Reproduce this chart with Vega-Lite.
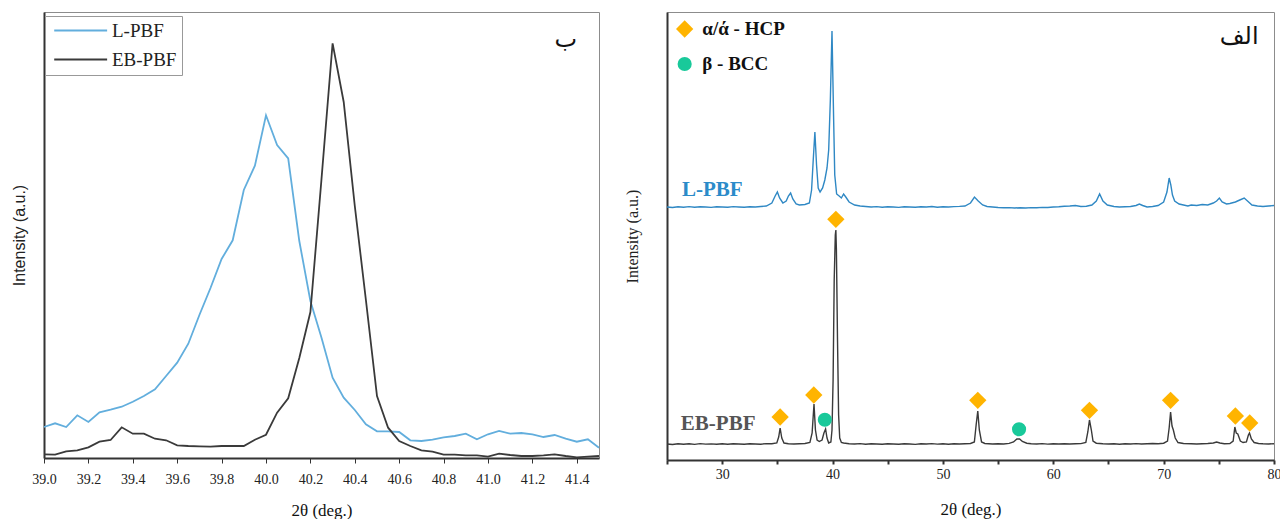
{
  "$schema": "https://vega.github.io/schema/vega-lite/v6.json",
  "background": "white",
  "padding": {"left": 10, "top": 11, "right": 0, "bottom": 0},
  "spacing": 19,
  "config": {
    "view": {"stroke": "#8c8c8c", "strokeWidth": 1},
    "axis": {"grid": false}
  },
  "datasets": {
    "zoom": [
      {"sample":"L-PBF","theta":39.00,"intensity":31},{"sample":"L-PBF","theta":39.05,"intensity":34.7},{"sample":"L-PBF","theta":39.10,"intensity":31},{"sample":"L-PBF","theta":39.15,"intensity":42.7},{"sample":"L-PBF","theta":39.20,"intensity":36},{"sample":"L-PBF","theta":39.25,"intensity":45.7},{"sample":"L-PBF","theta":39.30,"intensity":48.3},{"sample":"L-PBF","theta":39.35,"intensity":51.3},{"sample":"L-PBF","theta":39.40,"intensity":56.3},{"sample":"L-PBF","theta":39.45,"intensity":62},{"sample":"L-PBF","theta":39.50,"intensity":68.7},{"sample":"L-PBF","theta":39.55,"intensity":82},{"sample":"L-PBF","theta":39.60,"intensity":95.3},{"sample":"L-PBF","theta":39.65,"intensity":114.3},{"sample":"L-PBF","theta":39.70,"intensity":143},{"sample":"L-PBF","theta":39.75,"intensity":170},{"sample":"L-PBF","theta":39.80,"intensity":199},{"sample":"L-PBF","theta":39.85,"intensity":217.7},{"sample":"L-PBF","theta":39.90,"intensity":268},{"sample":"L-PBF","theta":39.95,"intensity":292.3},{"sample":"L-PBF","theta":40.00,"intensity":342.7},{"sample":"L-PBF","theta":40.05,"intensity":313},{"sample":"L-PBF","theta":40.10,"intensity":299.7},{"sample":"L-PBF","theta":40.15,"intensity":217},{"sample":"L-PBF","theta":40.20,"intensity":157},{"sample":"L-PBF","theta":40.25,"intensity":120.3},{"sample":"L-PBF","theta":40.30,"intensity":80.3},{"sample":"L-PBF","theta":40.35,"intensity":60.3},{"sample":"L-PBF","theta":40.40,"intensity":48},{"sample":"L-PBF","theta":40.45,"intensity":33.7},{"sample":"L-PBF","theta":40.50,"intensity":26.7},{"sample":"L-PBF","theta":40.55,"intensity":26.7},{"sample":"L-PBF","theta":40.60,"intensity":26},{"sample":"L-PBF","theta":40.65,"intensity":17.7},{"sample":"L-PBF","theta":40.70,"intensity":17},{"sample":"L-PBF","theta":40.75,"intensity":18.3},{"sample":"L-PBF","theta":40.80,"intensity":20.7},{"sample":"L-PBF","theta":40.85,"intensity":22},{"sample":"L-PBF","theta":40.90,"intensity":24.3},{"sample":"L-PBF","theta":40.95,"intensity":18.7},{"sample":"L-PBF","theta":41.00,"intensity":23.7},{"sample":"L-PBF","theta":41.05,"intensity":27},{"sample":"L-PBF","theta":41.10,"intensity":24.3},{"sample":"L-PBF","theta":41.15,"intensity":25},{"sample":"L-PBF","theta":41.20,"intensity":23.7},{"sample":"L-PBF","theta":41.25,"intensity":21},{"sample":"L-PBF","theta":41.30,"intensity":23},{"sample":"L-PBF","theta":41.35,"intensity":19.3},{"sample":"L-PBF","theta":41.40,"intensity":16.3},{"sample":"L-PBF","theta":41.45,"intensity":18.7},{"sample":"L-PBF","theta":41.50,"intensity":10.3},
      {"sample":"EB-PBF","theta":39.00,"intensity":3.7},{"sample":"EB-PBF","theta":39.05,"intensity":3.3},{"sample":"EB-PBF","theta":39.10,"intensity":6.7},{"sample":"EB-PBF","theta":39.15,"intensity":7.7},{"sample":"EB-PBF","theta":39.20,"intensity":10.7},{"sample":"EB-PBF","theta":39.25,"intensity":16.3},{"sample":"EB-PBF","theta":39.30,"intensity":18},{"sample":"EB-PBF","theta":39.35,"intensity":30.7},{"sample":"EB-PBF","theta":39.40,"intensity":24.3},{"sample":"EB-PBF","theta":39.45,"intensity":24.3},{"sample":"EB-PBF","theta":39.50,"intensity":19.3},{"sample":"EB-PBF","theta":39.55,"intensity":17.7},{"sample":"EB-PBF","theta":39.60,"intensity":12.7},{"sample":"EB-PBF","theta":39.65,"intensity":12},{"sample":"EB-PBF","theta":39.70,"intensity":11.7},{"sample":"EB-PBF","theta":39.75,"intensity":11.3},{"sample":"EB-PBF","theta":39.80,"intensity":12},{"sample":"EB-PBF","theta":39.85,"intensity":12},{"sample":"EB-PBF","theta":39.90,"intensity":12},{"sample":"EB-PBF","theta":39.95,"intensity":18.3},{"sample":"EB-PBF","theta":40.00,"intensity":23.3},{"sample":"EB-PBF","theta":40.05,"intensity":45.3},{"sample":"EB-PBF","theta":40.10,"intensity":59.7},{"sample":"EB-PBF","theta":40.15,"intensity":100},{"sample":"EB-PBF","theta":40.20,"intensity":146},{"sample":"EB-PBF","theta":40.25,"intensity":279},{"sample":"EB-PBF","theta":40.30,"intensity":414.7},{"sample":"EB-PBF","theta":40.35,"intensity":356},{"sample":"EB-PBF","theta":40.40,"intensity":252},{"sample":"EB-PBF","theta":40.45,"intensity":158},{"sample":"EB-PBF","theta":40.50,"intensity":62},{"sample":"EB-PBF","theta":40.55,"intensity":30.3},{"sample":"EB-PBF","theta":40.60,"intensity":17},{"sample":"EB-PBF","theta":40.65,"intensity":12},{"sample":"EB-PBF","theta":40.70,"intensity":7.7},{"sample":"EB-PBF","theta":40.75,"intensity":6.3},{"sample":"EB-PBF","theta":40.80,"intensity":3.3},{"sample":"EB-PBF","theta":40.85,"intensity":3.3},{"sample":"EB-PBF","theta":40.90,"intensity":2.7},{"sample":"EB-PBF","theta":40.95,"intensity":2.7},{"sample":"EB-PBF","theta":41.00,"intensity":1.3},{"sample":"EB-PBF","theta":41.05,"intensity":4.3},{"sample":"EB-PBF","theta":41.10,"intensity":3},{"sample":"EB-PBF","theta":41.15,"intensity":2},{"sample":"EB-PBF","theta":41.20,"intensity":2},{"sample":"EB-PBF","theta":41.25,"intensity":2.7},{"sample":"EB-PBF","theta":41.30,"intensity":3.7},{"sample":"EB-PBF","theta":41.35,"intensity":2},{"sample":"EB-PBF","theta":41.40,"intensity":0.7},{"sample":"EB-PBF","theta":41.45,"intensity":1.3},{"sample":"EB-PBF","theta":41.50,"intensity":2}
    ],
    "full": [
      {"sample":"L-PBF","theta":25,"intensity":253},{"sample":"L-PBF","theta":25.5,"intensity":252.5},{"sample":"L-PBF","theta":26,"intensity":253.3},{"sample":"L-PBF","theta":26.5,"intensity":252.8},{"sample":"L-PBF","theta":27,"intensity":253.4},{"sample":"L-PBF","theta":27.5,"intensity":252.7},{"sample":"L-PBF","theta":28,"intensity":253.2},{"sample":"L-PBF","theta":28.5,"intensity":253},{"sample":"L-PBF","theta":29,"intensity":252.6},{"sample":"L-PBF","theta":29.5,"intensity":253.3},{"sample":"L-PBF","theta":30,"intensity":253},{"sample":"L-PBF","theta":30.5,"intensity":252.8},{"sample":"L-PBF","theta":31,"intensity":253.4},{"sample":"L-PBF","theta":31.5,"intensity":253},{"sample":"L-PBF","theta":32,"intensity":252.7},{"sample":"L-PBF","theta":32.5,"intensity":253.3},{"sample":"L-PBF","theta":33,"intensity":253},{"sample":"L-PBF","theta":33.5,"intensity":253.5},{"sample":"L-PBF","theta":34,"intensity":254},{"sample":"L-PBF","theta":34.5,"intensity":257},{"sample":"L-PBF","theta":34.8,"intensity":264},{"sample":"L-PBF","theta":35.0,"intensity":268},{"sample":"L-PBF","theta":35.2,"intensity":262},{"sample":"L-PBF","theta":35.5,"intensity":257},{"sample":"L-PBF","theta":35.8,"intensity":259},{"sample":"L-PBF","theta":36.0,"intensity":264},{"sample":"L-PBF","theta":36.2,"intensity":267},{"sample":"L-PBF","theta":36.4,"intensity":261},{"sample":"L-PBF","theta":36.7,"intensity":256},{"sample":"L-PBF","theta":37,"intensity":255},{"sample":"L-PBF","theta":37.5,"intensity":255.5},{"sample":"L-PBF","theta":37.9,"intensity":257},{"sample":"L-PBF","theta":38.1,"intensity":270},{"sample":"L-PBF","theta":38.25,"intensity":300},{"sample":"L-PBF","theta":38.4,"intensity":328},{"sample":"L-PBF","theta":38.55,"intensity":295},{"sample":"L-PBF","theta":38.7,"intensity":272},{"sample":"L-PBF","theta":38.87,"intensity":268},{"sample":"L-PBF","theta":39.1,"intensity":272},{"sample":"L-PBF","theta":39.3,"intensity":280},{"sample":"L-PBF","theta":39.5,"intensity":292},{"sample":"L-PBF","theta":39.65,"intensity":310},{"sample":"L-PBF","theta":39.8,"intensity":360},{"sample":"L-PBF","theta":39.95,"intensity":429},{"sample":"L-PBF","theta":40.1,"intensity":340},{"sample":"L-PBF","theta":40.2,"intensity":285},{"sample":"L-PBF","theta":40.37,"intensity":266},{"sample":"L-PBF","theta":40.6,"intensity":264},{"sample":"L-PBF","theta":40.8,"intensity":262},{"sample":"L-PBF","theta":41.0,"intensity":266},{"sample":"L-PBF","theta":41.2,"intensity":263},{"sample":"L-PBF","theta":41.5,"intensity":258},{"sample":"L-PBF","theta":42,"intensity":255},{"sample":"L-PBF","theta":42.5,"intensity":254},{"sample":"L-PBF","theta":43,"intensity":253.5},{"sample":"L-PBF","theta":43.5,"intensity":253},{"sample":"L-PBF","theta":44,"intensity":253.4},{"sample":"L-PBF","theta":44.5,"intensity":252.8},{"sample":"L-PBF","theta":45,"intensity":253.2},{"sample":"L-PBF","theta":45.5,"intensity":253},{"sample":"L-PBF","theta":46,"intensity":252.6},{"sample":"L-PBF","theta":46.5,"intensity":253.3},{"sample":"L-PBF","theta":47,"intensity":253},{"sample":"L-PBF","theta":47.5,"intensity":252.7},{"sample":"L-PBF","theta":48,"intensity":253.2},{"sample":"L-PBF","theta":48.5,"intensity":253},{"sample":"L-PBF","theta":49,"intensity":253.5},{"sample":"L-PBF","theta":49.5,"intensity":252.8},{"sample":"L-PBF","theta":50,"intensity":253.2},{"sample":"L-PBF","theta":50.5,"intensity":253},{"sample":"L-PBF","theta":51,"intensity":253.4},{"sample":"L-PBF","theta":51.5,"intensity":253.6},{"sample":"L-PBF","theta":52,"intensity":254},{"sample":"L-PBF","theta":52.5,"intensity":257},{"sample":"L-PBF","theta":52.86,"intensity":263},{"sample":"L-PBF","theta":53.2,"intensity":259},{"sample":"L-PBF","theta":53.6,"intensity":255},{"sample":"L-PBF","theta":54,"intensity":253.5},{"sample":"L-PBF","theta":54.5,"intensity":253},{"sample":"L-PBF","theta":55,"intensity":252.5},{"sample":"L-PBF","theta":55.5,"intensity":252.2},{"sample":"L-PBF","theta":56,"intensity":252.4},{"sample":"L-PBF","theta":56.5,"intensity":252},{"sample":"L-PBF","theta":57,"intensity":252.3},{"sample":"L-PBF","theta":57.5,"intensity":252},{"sample":"L-PBF","theta":58,"intensity":252.4},{"sample":"L-PBF","theta":58.5,"intensity":252.2},{"sample":"L-PBF","theta":59,"intensity":252.6},{"sample":"L-PBF","theta":59.5,"intensity":252.5},{"sample":"L-PBF","theta":60,"intensity":253},{"sample":"L-PBF","theta":60.5,"intensity":253.2},{"sample":"L-PBF","theta":61,"intensity":253.8},{"sample":"L-PBF","theta":61.5,"intensity":254},{"sample":"L-PBF","theta":62,"intensity":254.5},{"sample":"L-PBF","theta":62.5,"intensity":253.5},{"sample":"L-PBF","theta":63,"intensity":253.7},{"sample":"L-PBF","theta":63.5,"intensity":255},{"sample":"L-PBF","theta":63.9,"intensity":259},{"sample":"L-PBF","theta":64.2,"intensity":266},{"sample":"L-PBF","theta":64.5,"intensity":259},{"sample":"L-PBF","theta":64.9,"intensity":255},{"sample":"L-PBF","theta":65.5,"intensity":253.5},{"sample":"L-PBF","theta":66,"intensity":253},{"sample":"L-PBF","theta":66.5,"intensity":253.2},{"sample":"L-PBF","theta":67,"intensity":253.5},{"sample":"L-PBF","theta":67.5,"intensity":254.5},{"sample":"L-PBF","theta":67.8,"intensity":256},{"sample":"L-PBF","theta":68.1,"intensity":254.5},{"sample":"L-PBF","theta":68.5,"intensity":253},{"sample":"L-PBF","theta":69,"intensity":253.5},{"sample":"L-PBF","theta":69.5,"intensity":254.5},{"sample":"L-PBF","theta":70,"intensity":258},{"sample":"L-PBF","theta":70.3,"intensity":268},{"sample":"L-PBF","theta":70.5,"intensity":282},{"sample":"L-PBF","theta":70.65,"intensity":275},{"sample":"L-PBF","theta":70.8,"intensity":265},{"sample":"L-PBF","theta":71.0,"intensity":259},{"sample":"L-PBF","theta":71.4,"intensity":256},{"sample":"L-PBF","theta":71.8,"intensity":255},{"sample":"L-PBF","theta":72.2,"intensity":254},{"sample":"L-PBF","theta":72.5,"intensity":255},{"sample":"L-PBF","theta":73,"intensity":254.5},{"sample":"L-PBF","theta":73.5,"intensity":255.5},{"sample":"L-PBF","theta":74,"intensity":255},{"sample":"L-PBF","theta":74.5,"intensity":257},{"sample":"L-PBF","theta":74.8,"intensity":259},{"sample":"L-PBF","theta":75.05,"intensity":262},{"sample":"L-PBF","theta":75.3,"intensity":258},{"sample":"L-PBF","theta":75.7,"intensity":256},{"sample":"L-PBF","theta":76,"intensity":256.5},{"sample":"L-PBF","theta":76.5,"intensity":258},{"sample":"L-PBF","theta":76.9,"intensity":260},{"sample":"L-PBF","theta":77.3,"intensity":262},{"sample":"L-PBF","theta":77.7,"intensity":258},{"sample":"L-PBF","theta":78,"intensity":255},{"sample":"L-PBF","theta":78.5,"intensity":254},{"sample":"L-PBF","theta":79,"intensity":253.5},{"sample":"L-PBF","theta":79.5,"intensity":254},{"sample":"L-PBF","theta":80,"intensity":254.5},
      {"sample":"EB-PBF","theta":25,"intensity":16},{"sample":"EB-PBF","theta":25.5,"intensity":15.5},{"sample":"EB-PBF","theta":26,"intensity":16.3},{"sample":"EB-PBF","theta":26.5,"intensity":15.8},{"sample":"EB-PBF","theta":27,"intensity":16.2},{"sample":"EB-PBF","theta":27.5,"intensity":15.6},{"sample":"EB-PBF","theta":28,"intensity":16.4},{"sample":"EB-PBF","theta":28.5,"intensity":15.9},{"sample":"EB-PBF","theta":29,"intensity":16.1},{"sample":"EB-PBF","theta":29.5,"intensity":15.7},{"sample":"EB-PBF","theta":30,"intensity":16.3},{"sample":"EB-PBF","theta":30.5,"intensity":15.8},{"sample":"EB-PBF","theta":31,"intensity":16.2},{"sample":"EB-PBF","theta":31.5,"intensity":16},{"sample":"EB-PBF","theta":32,"intensity":15.7},{"sample":"EB-PBF","theta":32.5,"intensity":16.3},{"sample":"EB-PBF","theta":33,"intensity":16},{"sample":"EB-PBF","theta":33.5,"intensity":15.8},{"sample":"EB-PBF","theta":34,"intensity":16.4},{"sample":"EB-PBF","theta":34.5,"intensity":16.2},{"sample":"EB-PBF","theta":34.95,"intensity":17},{"sample":"EB-PBF","theta":35.12,"intensity":23},{"sample":"EB-PBF","theta":35.25,"intensity":32},{"sample":"EB-PBF","theta":35.4,"intensity":22},{"sample":"EB-PBF","theta":35.6,"intensity":17},{"sample":"EB-PBF","theta":36,"intensity":16.3},{"sample":"EB-PBF","theta":36.5,"intensity":16},{"sample":"EB-PBF","theta":37,"intensity":16.2},{"sample":"EB-PBF","theta":37.5,"intensity":16.5},{"sample":"EB-PBF","theta":37.95,"intensity":17.5},{"sample":"EB-PBF","theta":38.15,"intensity":27},{"sample":"EB-PBF","theta":38.32,"intensity":56},{"sample":"EB-PBF","theta":38.45,"intensity":30},{"sample":"EB-PBF","theta":38.6,"intensity":20},{"sample":"EB-PBF","theta":38.8,"intensity":18.5},{"sample":"EB-PBF","theta":39.05,"intensity":20},{"sample":"EB-PBF","theta":39.22,"intensity":27},{"sample":"EB-PBF","theta":39.37,"intensity":31},{"sample":"EB-PBF","theta":39.5,"intensity":22},{"sample":"EB-PBF","theta":39.65,"intensity":17},{"sample":"EB-PBF","theta":39.85,"intensity":18},{"sample":"EB-PBF","theta":39.95,"intensity":30},{"sample":"EB-PBF","theta":40.05,"intensity":80},{"sample":"EB-PBF","theta":40.15,"intensity":180},{"sample":"EB-PBF","theta":40.25,"intensity":225},{"sample":"EB-PBF","theta":40.3,"intensity":230},{"sample":"EB-PBF","theta":40.35,"intensity":210},{"sample":"EB-PBF","theta":40.45,"intensity":120},{"sample":"EB-PBF","theta":40.55,"intensity":45},{"sample":"EB-PBF","theta":40.65,"intensity":22},{"sample":"EB-PBF","theta":40.8,"intensity":17.5},{"sample":"EB-PBF","theta":41,"intensity":17},{"sample":"EB-PBF","theta":41.5,"intensity":16.3},{"sample":"EB-PBF","theta":42,"intensity":16},{"sample":"EB-PBF","theta":42.5,"intensity":16.4},{"sample":"EB-PBF","theta":43,"intensity":15.8},{"sample":"EB-PBF","theta":43.5,"intensity":16.2},{"sample":"EB-PBF","theta":44,"intensity":16},{"sample":"EB-PBF","theta":44.5,"intensity":15.7},{"sample":"EB-PBF","theta":45,"intensity":16.3},{"sample":"EB-PBF","theta":45.5,"intensity":16},{"sample":"EB-PBF","theta":46,"intensity":15.8},{"sample":"EB-PBF","theta":46.5,"intensity":16.3},{"sample":"EB-PBF","theta":47,"intensity":16},{"sample":"EB-PBF","theta":47.5,"intensity":15.6},{"sample":"EB-PBF","theta":48,"intensity":16.2},{"sample":"EB-PBF","theta":48.5,"intensity":16},{"sample":"EB-PBF","theta":49,"intensity":16.4},{"sample":"EB-PBF","theta":49.5,"intensity":15.9},{"sample":"EB-PBF","theta":50,"intensity":16.2},{"sample":"EB-PBF","theta":50.5,"intensity":15.8},{"sample":"EB-PBF","theta":51,"intensity":16.3},{"sample":"EB-PBF","theta":51.5,"intensity":16},{"sample":"EB-PBF","theta":52,"intensity":16.2},{"sample":"EB-PBF","theta":52.5,"intensity":16.5},{"sample":"EB-PBF","theta":52.85,"intensity":18},{"sample":"EB-PBF","theta":53.02,"intensity":36},{"sample":"EB-PBF","theta":53.16,"intensity":49},{"sample":"EB-PBF","theta":53.3,"intensity":30},{"sample":"EB-PBF","theta":53.5,"intensity":18},{"sample":"EB-PBF","theta":53.8,"intensity":16.5},{"sample":"EB-PBF","theta":54.5,"intensity":16},{"sample":"EB-PBF","theta":55,"intensity":16.3},{"sample":"EB-PBF","theta":55.5,"intensity":16},{"sample":"EB-PBF","theta":56,"intensity":16.6},{"sample":"EB-PBF","theta":56.4,"intensity":18},{"sample":"EB-PBF","theta":56.7,"intensity":21},{"sample":"EB-PBF","theta":56.95,"intensity":21},{"sample":"EB-PBF","theta":57.2,"intensity":18.5},{"sample":"EB-PBF","theta":57.6,"intensity":16.8},{"sample":"EB-PBF","theta":58,"intensity":16.2},{"sample":"EB-PBF","theta":58.5,"intensity":16},{"sample":"EB-PBF","theta":59,"intensity":16.4},{"sample":"EB-PBF","theta":59.5,"intensity":15.9},{"sample":"EB-PBF","theta":60,"intensity":16.2},{"sample":"EB-PBF","theta":60.5,"intensity":16},{"sample":"EB-PBF","theta":61,"intensity":16.3},{"sample":"EB-PBF","theta":61.5,"intensity":16},{"sample":"EB-PBF","theta":62,"intensity":16.2},{"sample":"EB-PBF","theta":62.5,"intensity":16.4},{"sample":"EB-PBF","theta":62.95,"intensity":17.5},{"sample":"EB-PBF","theta":63.13,"intensity":28},{"sample":"EB-PBF","theta":63.28,"intensity":40},{"sample":"EB-PBF","theta":63.45,"intensity":30},{"sample":"EB-PBF","theta":63.6,"intensity":19},{"sample":"EB-PBF","theta":63.9,"intensity":16.8},{"sample":"EB-PBF","theta":64.5,"intensity":16.2},{"sample":"EB-PBF","theta":65,"intensity":16},{"sample":"EB-PBF","theta":65.5,"intensity":16.3},{"sample":"EB-PBF","theta":66,"intensity":15.8},{"sample":"EB-PBF","theta":66.5,"intensity":16.2},{"sample":"EB-PBF","theta":67,"intensity":16},{"sample":"EB-PBF","theta":67.5,"intensity":16.4},{"sample":"EB-PBF","theta":68,"intensity":16},{"sample":"EB-PBF","theta":68.5,"intensity":16.2},{"sample":"EB-PBF","theta":69,"intensity":16.5},{"sample":"EB-PBF","theta":69.5,"intensity":16.3},{"sample":"EB-PBF","theta":70,"intensity":16.8},{"sample":"EB-PBF","theta":70.35,"intensity":19},{"sample":"EB-PBF","theta":70.5,"intensity":32},{"sample":"EB-PBF","theta":70.63,"intensity":48},{"sample":"EB-PBF","theta":70.76,"intensity":34},{"sample":"EB-PBF","theta":70.88,"intensity":30},{"sample":"EB-PBF","theta":71.05,"intensity":22},{"sample":"EB-PBF","theta":71.3,"intensity":17.5},{"sample":"EB-PBF","theta":71.8,"intensity":16.5},{"sample":"EB-PBF","theta":72.5,"intensity":16.2},{"sample":"EB-PBF","theta":73,"intensity":16},{"sample":"EB-PBF","theta":73.5,"intensity":16.3},{"sample":"EB-PBF","theta":74,"intensity":16.5},{"sample":"EB-PBF","theta":74.5,"intensity":17},{"sample":"EB-PBF","theta":74.8,"intensity":18},{"sample":"EB-PBF","theta":75.1,"intensity":17},{"sample":"EB-PBF","theta":75.5,"intensity":16.3},{"sample":"EB-PBF","theta":76,"intensity":16.5},{"sample":"EB-PBF","theta":76.3,"intensity":19},{"sample":"EB-PBF","theta":76.45,"intensity":33},{"sample":"EB-PBF","theta":76.58,"intensity":27},{"sample":"EB-PBF","theta":76.72,"intensity":26},{"sample":"EB-PBF","theta":76.95,"intensity":19},{"sample":"EB-PBF","theta":77.2,"intensity":17.5},{"sample":"EB-PBF","theta":77.5,"intensity":18},{"sample":"EB-PBF","theta":77.68,"intensity":25},{"sample":"EB-PBF","theta":77.78,"intensity":27},{"sample":"EB-PBF","theta":77.95,"intensity":21},{"sample":"EB-PBF","theta":78.2,"intensity":17.5},{"sample":"EB-PBF","theta":78.6,"intensity":16.5},{"sample":"EB-PBF","theta":79,"intensity":16.2},{"sample":"EB-PBF","theta":79.5,"intensity":16},{"sample":"EB-PBF","theta":80,"intensity":16.3}
    ],
    "markers": [
      {"phase":"HCP","theta":26.6,"intensity":431},
      {"phase":"BCC","theta":26.6,"intensity":396},
      {"phase":"HCP","theta":35.25,"intensity":43},
      {"phase":"HCP","theta":38.3,"intensity":65},
      {"phase":"BCC","theta":39.3,"intensity":40.3},
      {"phase":"HCP","theta":40.3,"intensity":240.7},
      {"phase":"HCP","theta":53.16,"intensity":59.7},
      {"phase":"BCC","theta":56.9,"intensity":30.7},
      {"phase":"HCP","theta":63.28,"intensity":49.7},
      {"phase":"HCP","theta":70.63,"intensity":59.7},
      {"phase":"HCP","theta":76.5,"intensity":44},
      {"phase":"HCP","theta":77.8,"intensity":37}
    ],
    "labels": [
      {"kind":"legend","theta":28.2,"intensity":431,"text":"α/ά - HCP"},
      {"kind":"legend","theta":28.2,"intensity":396,"text":"β - BCC"},
      {"kind":"L","theta":26.35,"intensity":270,"text":"L-PBF"},
      {"kind":"EB","theta":26.25,"intensity":36,"text":"EB-PBF"},
      {"kind":"panel","theta":78.6,"intensity":423,"text":"الف"}
    ]
  },
  "hconcat": [
    {
      "width": 555,
      "height": 446,
      "layer": [
        {
          "data": {"name": "zoom"},
          "mark": {"type": "line", "strokeWidth": 1.8},
          "encoding": {
            "x": {"field": "theta", "type": "quantitative",
              "scale": {"domain": [39, 41.5], "nice": false, "zero": false},
              "axis": {"values": [39.0,39.1,39.2,39.3,39.4,39.5,39.6,39.7,39.8,39.9,40.0,40.1,40.2,40.3,40.4,40.5,40.6,40.7,40.8,40.9,41.0,41.1,41.2,41.3,41.4,41.5],
                "format": ".1f", "labelExpr": "round(datum.value*10) % 2 == 0 && datum.value < 41.45 ? datum.label : ''",
                "title": "2θ (deg.)", "titleFont": "Liberation Serif", "titleFontSize": 17, "titleFontWeight": "normal", "titleColor": "#111", "titlePadding": 16,
                "labelFont": "Liberation Serif", "labelFontSize": 14, "labelColor": "#222", "labelPadding": 9, "labelFlush": false,
                "domainColor": "#333", "domainWidth": 2, "tickColor": "#333", "tickWidth": 1, "tickSize": 5}},
            "y": {"field": "intensity", "type": "quantitative",
              "scale": {"domain": [0, 446], "nice": false},
              "axis": {"title": "Intensity (a.u.)", "titleFont": "Liberation Sans", "titleFontSize": 16, "titleFontWeight": "normal", "titleColor": "#222", "titlePadding": 17,
                "labels": false, "ticks": false, "domainColor": "#333", "domainWidth": 2}},
            "color": {"field": "sample", "type": "nominal",
              "scale": {"domain": ["L-PBF", "EB-PBF"], "range": ["#62aedd", "#3a3a3a"]},
              "legend": {"title": null, "orient": "none", "legendX": 1, "legendY": 4, "direction": "vertical",
                "symbolType": "M-1,0H9", "symbolSize": 112, "symbolStrokeWidth": 2, "labelFont": "Liberation Serif", "labelFontSize": 19, "labelColor": "#222", "labelOffset": 43,
                "strokeColor": "#999", "fillColor": "white", "padding": 5, "rowPadding": 9}}
          }
        },
        {
          "data": {"values": [{"theta": 41.35, "intensity": 418, "text": "ب"}]},
          "mark": {"type": "text", "font": "DejaVu Sans", "fontSize": 24, "color": "#111", "align": "center", "baseline": "middle"},
          "encoding": {
            "x": {"field": "theta", "type": "quantitative"},
            "y": {"field": "intensity", "type": "quantitative"},
            "text": {"field": "text"}
          }
        }
      ]
    },
    {
      "width": 607,
      "height": 448,
      "layer": [
        {
          "data": {"name": "full"},
          "mark": {"type": "line", "strokeWidth": 1.4},
          "encoding": {
            "x": {"field": "theta", "type": "quantitative",
              "scale": {"domain": [25, 80], "nice": false, "zero": false},
              "axis": {"values": [25,30,35,40,45,50,55,60,65,70,75,80],
                "labelExpr": "datum.value % 10 == 0 ? datum.label : ''",
                "title": "2θ (deg.)", "titleFont": "Liberation Serif", "titleFontSize": 17, "titleFontWeight": "normal", "titleColor": "#111", "titlePadding": 20,
                "labelFont": "Liberation Serif", "labelFontSize": 14, "labelColor": "#222", "labelPadding": 3, "labelFlush": false,
                "domainColor": "#333", "domainWidth": 2, "tickColor": "#333", "tickWidth": 2, "tickSize": 4}},
            "y": {"field": "intensity", "type": "quantitative",
              "scale": {"domain": [0, 448], "nice": false},
              "axis": {"title": "Intensity (a.u.)", "titleFont": "Liberation Serif", "titleFontSize": 16, "titleFontWeight": "normal", "titleColor": "#222", "titlePadding": 27,
                "labels": false, "ticks": false, "domainColor": "#333", "domainWidth": 2}},
            "color": {"field": "sample", "type": "nominal",
              "scale": {"domain": ["L-PBF", "EB-PBF"], "range": ["#2f88c4", "#3a3a3a"]},
              "legend": null}
          }
        },
        {
          "data": {"name": "markers"},
          "transform": [{"filter": "datum.phase == 'HCP'"}],
          "mark": {"type": "point", "shape": "diamond", "filled": true, "color": "#ffb400", "opacity": 1, "size": 300},
          "encoding": {
            "x": {"field": "theta", "type": "quantitative"},
            "y": {"field": "intensity", "type": "quantitative"}
          }
        },
        {
          "data": {"name": "markers"},
          "transform": [{"filter": "datum.phase == 'BCC'"}],
          "mark": {"type": "point", "shape": "circle", "filled": true, "color": "#19c99a", "opacity": 1, "size": 200},
          "encoding": {
            "x": {"field": "theta", "type": "quantitative"},
            "y": {"field": "intensity", "type": "quantitative"}
          }
        },
        {
          "data": {"name": "labels"},
          "transform": [{"filter": "datum.kind == 'legend'"}],
          "mark": {"type": "text", "font": "Liberation Serif", "fontSize": 19, "fontWeight": "bold", "color": "#111", "align": "left", "baseline": "middle"},
          "encoding": {
            "x": {"field": "theta", "type": "quantitative"},
            "y": {"field": "intensity", "type": "quantitative"},
            "text": {"field": "text"}
          }
        },
        {
          "data": {"name": "labels"},
          "transform": [{"filter": "datum.kind == 'L'"}],
          "mark": {"type": "text", "font": "Liberation Serif", "fontSize": 21, "fontWeight": "bold", "color": "#2b8bc9", "align": "left", "baseline": "middle"},
          "encoding": {
            "x": {"field": "theta", "type": "quantitative"},
            "y": {"field": "intensity", "type": "quantitative"},
            "text": {"field": "text"}
          }
        },
        {
          "data": {"name": "labels"},
          "transform": [{"filter": "datum.kind == 'EB'"}],
          "mark": {"type": "text", "font": "Liberation Serif", "fontSize": 21, "fontWeight": "bold", "color": "#555555", "align": "left", "baseline": "middle"},
          "encoding": {
            "x": {"field": "theta", "type": "quantitative"},
            "y": {"field": "intensity", "type": "quantitative"},
            "text": {"field": "text"}
          }
        },
        {
          "data": {"name": "labels"},
          "transform": [{"filter": "datum.kind == 'panel'"}],
          "mark": {"type": "text", "font": "DejaVu Sans", "fontSize": 24, "color": "#111", "align": "right", "baseline": "middle"},
          "encoding": {
            "x": {"field": "theta", "type": "quantitative"},
            "y": {"field": "intensity", "type": "quantitative"},
            "text": {"field": "text"}
          }
        }
      ]
    }
  ],
  "resolve": {"scale": {"color": "independent"}, "legend": {"color": "independent"}}
}
